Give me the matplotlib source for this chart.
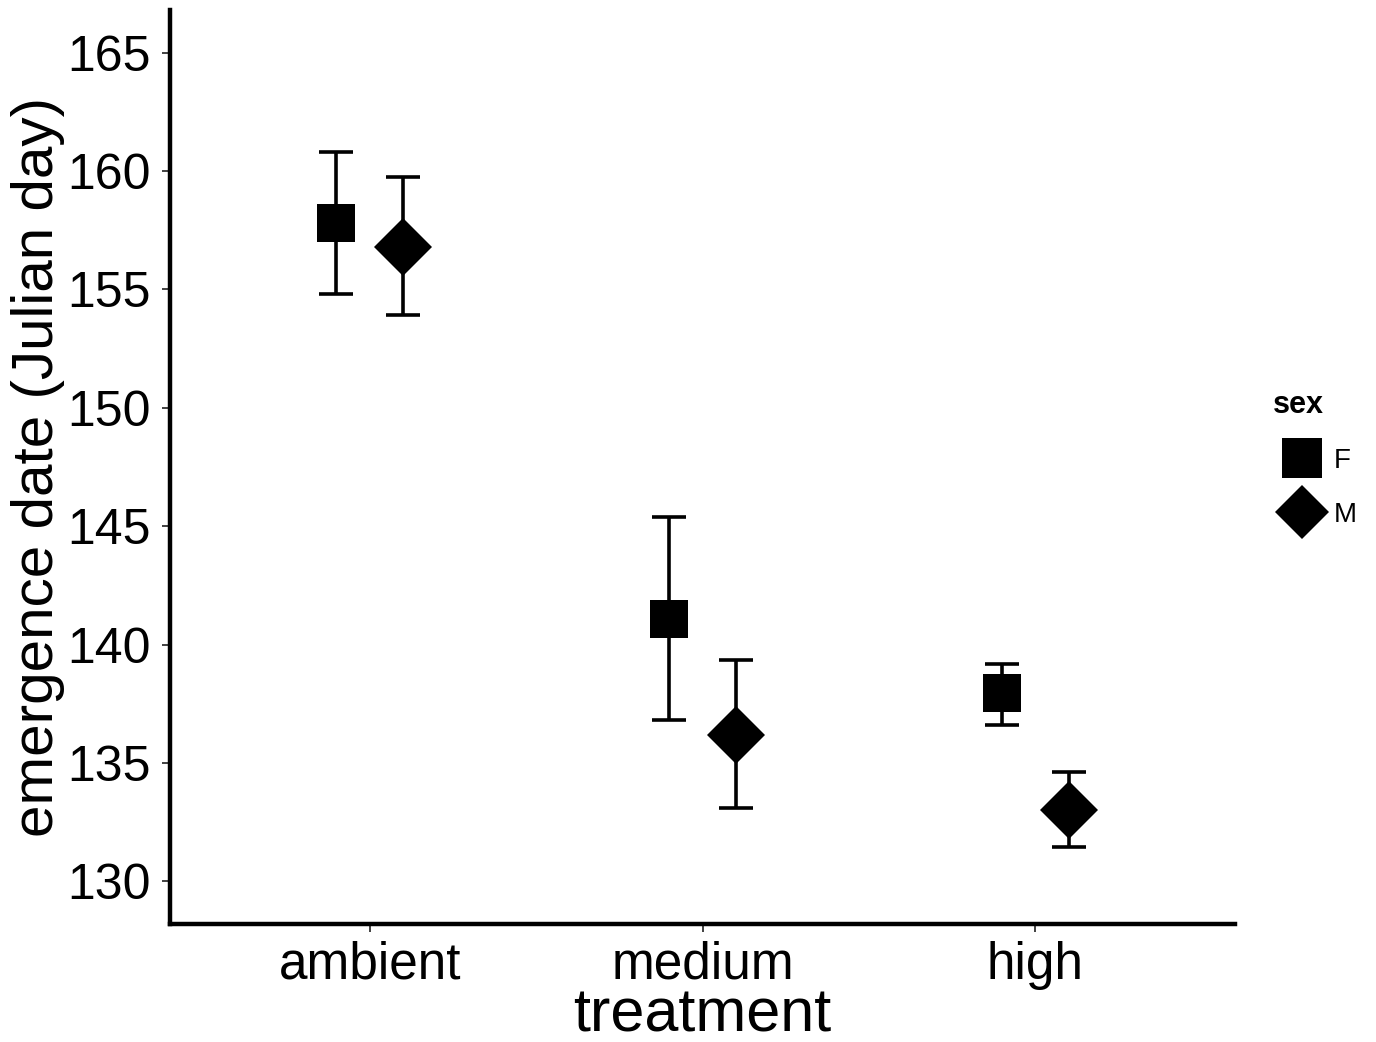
import matplotlib
matplotlib.use("Agg")
import matplotlib.pyplot as plt
from matplotlib.lines import Line2D
import numpy as np

plt.rcParams['font.family'] = ['Liberation Sans', 'DejaVu Sans']

treatments = ["ambient", "medium", "high"]
sexes = ["F", "M"]
means_F = [157.8, 141.1, 137.95]
lower_F = [154.8, 136.8, 136.6]
upper_F = [160.8, 145.4, 139.2]
means_M = [156.8, 136.2, 133.0]
lower_M = [153.9, 133.1, 131.45]
upper_M = [159.75, 139.35, 134.6]
yticks = [130, 135, 140, 145, 150, 155, 160, 165]

fig = plt.figure(figsize=(13.76, 10.42), dpi=100)
ax = fig.add_axes([170/1376, 1-924/1042, (1235-170)/1376, (924-10)/1042])

x = np.arange(1, len(treatments) + 1)
dodge = 0.1
series = [
    (means_F, lower_F, upper_F, 's', 27, -dodge),
    (means_M, lower_M, upper_M, 'D', 29.5, dodge),
]
for m, lo, hi, mk, ms, off in series:
    m = np.array(m); lo = np.array(lo); hi = np.array(hi)
    ax.errorbar(x + off, m, yerr=[m - lo, hi - m], fmt='none', ecolor='black',
                elinewidth=2.6, capsize=12.3, capthick=2.6, zorder=2)
    ax.plot(x + off, m, linestyle='none', marker=mk, markersize=ms,
            color='black', markeredgewidth=0, zorder=3)

ax.set_xlim(0.4, 3.6)
ax.set_ylim(128.2, 166.8)
ax.set_xticks(x)
ax.set_xticklabels(treatments)
ax.set_yticks(yticks)
ax.tick_params(axis='both', length=5.5, width=1.3, color='#333333',
               labelcolor='black')
ax.tick_params(axis='y', labelsize=36, pad=8.2)
ax.tick_params(axis='x', labelsize=37, pad=6.5)
for s in ['top', 'right']:
    ax.spines[s].set_visible(False)
for s in ['left', 'bottom']:
    ax.spines[s].set_linewidth(3.2)
    ax.spines[s].set_color('black')
ax.set_xlabel("treatment", fontsize=44, labelpad=-1.5)
ax.set_ylabel("emergence date (Julian day)", fontsize=42, labelpad=2)

handles = [
    Line2D([], [], linestyle='none', marker='s', markersize=29, color='black', markeredgewidth=0),
    Line2D([], [], linestyle='none', marker='D', markersize=28, color='black', markeredgewidth=0),
]
leg = fig.legend(handles, sexes, title="sex", loc='center left',
                 bbox_to_anchor=(1259/1376, 1-459/1042), frameon=False,
                 fontsize=20, title_fontproperties={'weight': 'bold', 'size': 22},
                 handletextpad=0.1, labelspacing=1.0, borderpad=0, handlelength=2.1)
leg._legend_box.align = "left"

fig.savefig("out.png", dpi=100)
